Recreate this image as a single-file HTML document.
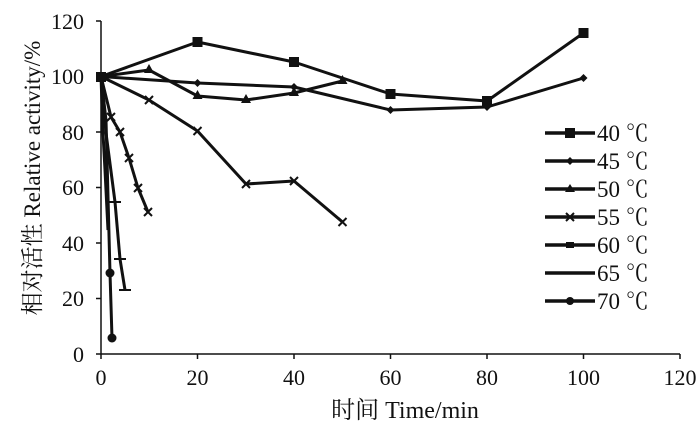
<!DOCTYPE html>
<html><head><style>body{margin:0;background:#fff}svg{display:block}text{font-family:"Liberation Serif","Noto Serif CJK SC",serif;fill:#111}</style></head><body>
<svg width="700" height="427" viewBox="0 0 700 427" xmlns="http://www.w3.org/2000/svg">
<g stroke="#111" stroke-width="1.5" fill="none">
<line x1="101" y1="21" x2="101" y2="354"/><line x1="101" y1="354" x2="680" y2="354"/>
<path d="M96 354H101M96 298.5H101M96 243H101M96 187.5H101M96 132H101M96 76.5H101M96 21H101"/>
<path d="M101 354V359M197.5 354V359M294 354V359M390.5 354V359M487 354V359M583.5 354V359M680 354V359"/>
</g>
<g font-size="22" text-anchor="end">
<text x="84" y="362">0</text><text x="84" y="306">20</text><text x="84" y="251">40</text><text x="84" y="195">60</text><text x="84" y="140">80</text><text x="84" y="84">100</text><text x="84" y="29">120</text></g>
<g font-size="22" text-anchor="middle">
<text x="101" y="385">0</text><text x="197.5" y="385">20</text><text x="294" y="385">40</text><text x="390.5" y="385">60</text><text x="487" y="385">80</text><text x="583.5" y="385">100</text><text x="680" y="385">120</text>
<text x="405" y="418" font-size="24">时间 Time/min</text>
<text transform="translate(40,178) rotate(-90)" font-size="23">相对活性 Relative activity/%</text></g>
<g stroke="#111" stroke-width="3" fill="none" stroke-linejoin="round">
<polyline points="101,76.5 197.5,42 294,62 390.5,94 487,101 583.5,33"/>
<polyline points="101,76.5 197.5,83 294,87 390.5,110 487,107 583.5,78"/>
<polyline points="101,76.5 149,70 197.5,96 246,100 294,93 342.5,81"/>
<polyline points="101,76.5 149,100 197.5,131 246,184 294,181 342.5,222"/>
<polyline points="101,76.5 111,117 120,132 129,158 138,188 148,212"/>
<polyline points="101,76.5 106,133 115,202 120,259 125,290"/>
<polyline points="101,76.5 103,133 105,170 108,230"/>
<polyline points="101,76.5 106,120 110,273 112,338"/>
</g>
<g fill="#111">
<rect x="96" y="72" width="10" height="10"/><rect x="192.5" y="37" width="10" height="10"/><rect x="289" y="57" width="10" height="10"/><rect x="385.5" y="89" width="10" height="10"/><rect x="482" y="96" width="10" height="10"/><rect x="578.5" y="28" width="10" height="10"/>
<path d="M197.5 79l4 4-4 4-4-4zM294 83l4 4-4 4-4-4zM390.5 106l4 4-4 4-4-4zM487 103l4 4-4 4-4-4zM583.5 74l4 4-4 4-4-4z"/>
<path d="M149 64l5 9h-10zM197.5 90l5 9h-10zM246 94l5 9h-10zM294 87l5 9h-10zM342.5 75l5 9h-10z"/>
<circle cx="110" cy="273" r="4.5"/><circle cx="112" cy="338" r="4.5"/>
</g>
<g stroke="#111" stroke-width="2">
<path d="M145 96l8 8M153 96l-8 8M193.5 127l8 8M201.5 127l-8 8M242 180l8 8M250 180l-8 8M290 177l8 8M298 177l-8 8M338.5 218l8 8M346.5 218l-8 8"/>
<path d="M107 113l8 8M115 113l-8 8M116 128l8 8M124 128l-8 8M125 154l8 8M133 154l-8 8M134 184l8 8M142 184l-8 8M144 208l8 8M152 208l-8 8"/>
<path d="M109 202h12M114 259h12M119 290h12"/>
</g>
<g stroke="#111" stroke-width="3.5">
<path d="M545 133h50M545 161h50M545 189h50M545 217h50M545 245h50M545 273h50M545 301h50"/>
</g>
<g fill="#111"><rect x="565" y="128" width="10" height="10"/><path d="M570 157l4 4-4 4-4-4zM570 184l5 8h-10z"/><rect x="566" y="242" width="8" height="6"/><circle cx="570" cy="301" r="4"/></g>
<path d="M566 213l8 8M574 213l-8 8" stroke="#111" stroke-width="2"/>
<g font-size="23"><text x="597" y="141">40 ℃</text><text x="597" y="169">45 ℃</text><text x="597" y="197">50 ℃</text><text x="597" y="225">55 ℃</text><text x="597" y="253">60 ℃</text><text x="597" y="281">65 ℃</text><text x="597" y="309">70 ℃</text></g>
</svg>
</body></html>
